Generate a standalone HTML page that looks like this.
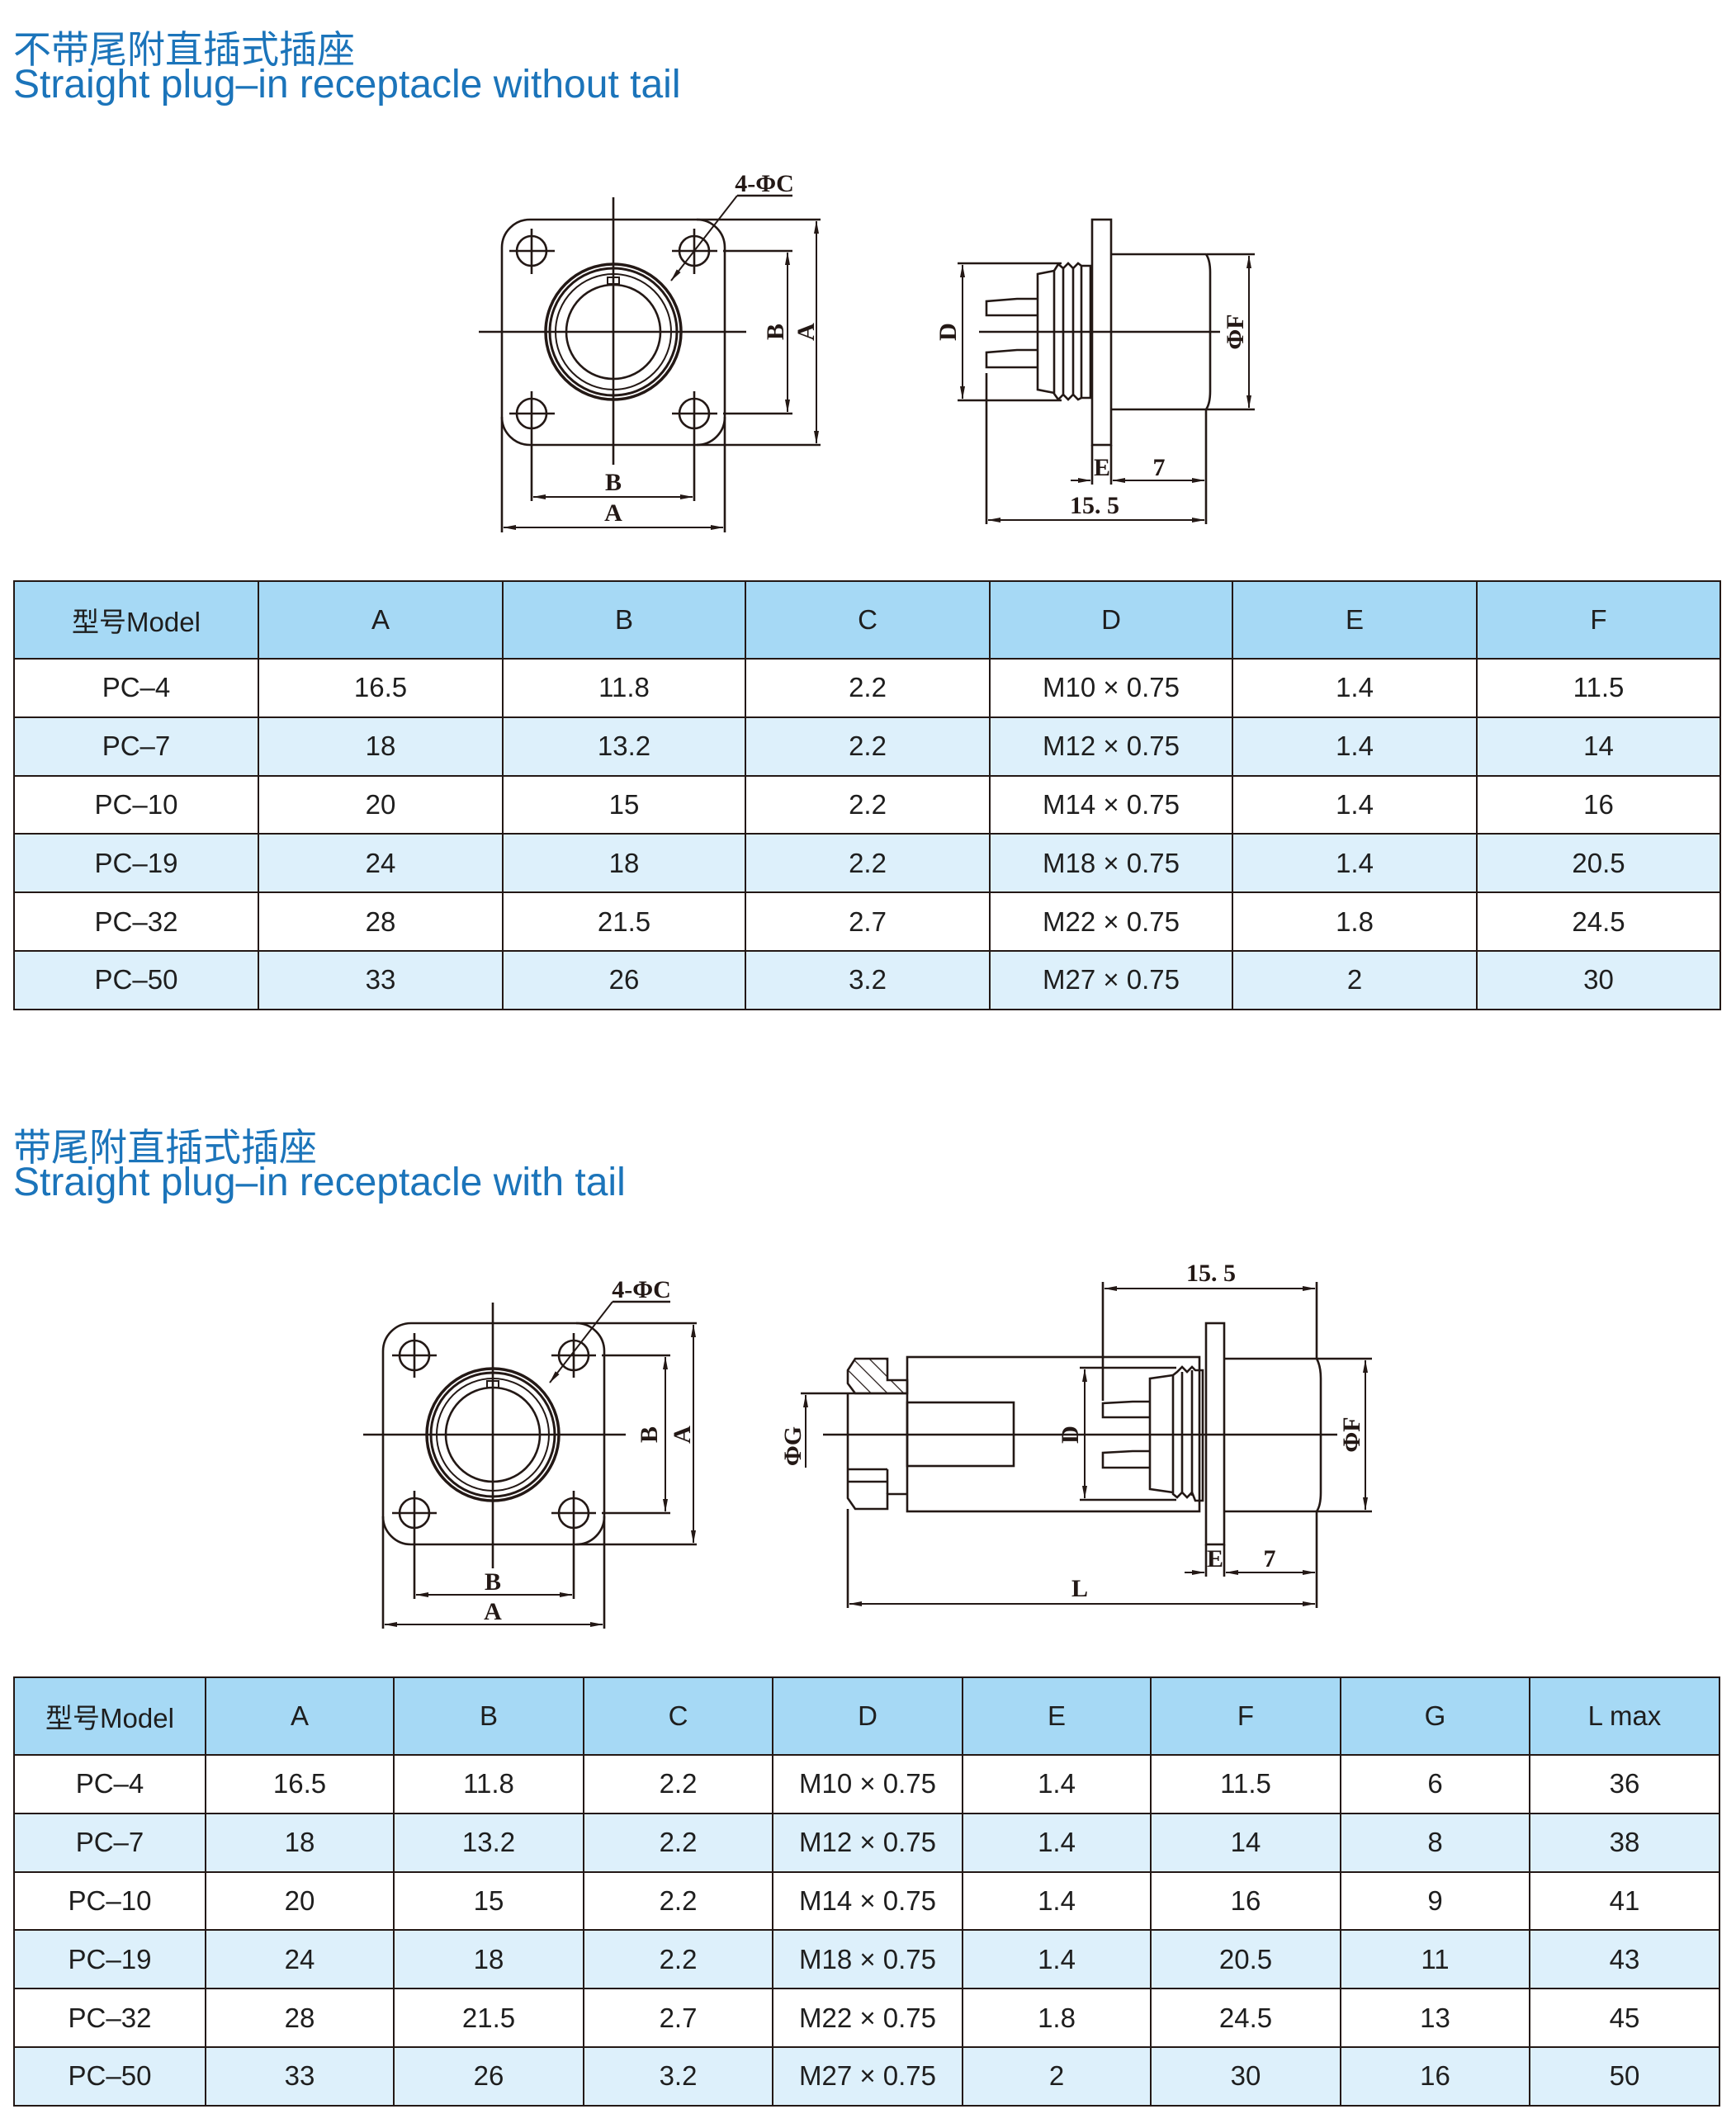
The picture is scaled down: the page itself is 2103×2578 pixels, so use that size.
<!DOCTYPE html>
<html><head><meta charset="utf-8">
<style>
*{margin:0;padding:0;box-sizing:border-box}
body{width:2103px;height:2578px;background:#fff;position:relative;overflow:hidden;font-family:"Liberation Sans","Noto Sans CJK SC",sans-serif}
.t{position:absolute;left:16px;color:#1b74ba;white-space:nowrap}
.cn{font-size:46px;font-family:"Liberation Sans","Noto Sans CJK SC",sans-serif}
.en{font-size:48px}
table{position:absolute;border-collapse:collapse;table-layout:fixed;font-size:33px;color:#1e1e1e}
td{border:2.5px solid #231815;text-align:center;vertical-align:middle;height:70.8px;padding:0}
tr.h td{height:94px;background:#a6d9f5}
tr.a td{background:#ddf0fb}
svg{position:absolute;left:0;top:0}
</style></head><body>
<div class="t cn" style="top:24px">不带尾附直插式插座</div>
<div class="t en" style="top:75px">Straight plug–in receptacle without tail</div>
<div class="t cn" style="top:1354px">带尾附直插式插座</div>
<div class="t en" style="top:1405px">Straight plug–in receptacle with tail</div>

<table style="left:16px;top:703px;width:2067px">
<colgroup><col style="width:296px"><col style="width:296px"><col style="width:294px"><col style="width:296px"><col style="width:294px"><col style="width:296px"><col style="width:295px"></colgroup>
<tr class="h"><td>型号Model</td><td>A</td><td>B</td><td>C</td><td>D</td><td>E</td><td>F</td></tr>
<tr><td>PC–4</td><td>16.5</td><td>11.8</td><td>2.2</td><td>M10 × 0.75</td><td>1.4</td><td>11.5</td></tr>
<tr class="a"><td>PC–7</td><td>18</td><td>13.2</td><td>2.2</td><td>M12 × 0.75</td><td>1.4</td><td>14</td></tr>
<tr><td>PC–10</td><td>20</td><td>15</td><td>2.2</td><td>M14 × 0.75</td><td>1.4</td><td>16</td></tr>
<tr class="a"><td>PC–19</td><td>24</td><td>18</td><td>2.2</td><td>M18 × 0.75</td><td>1.4</td><td>20.5</td></tr>
<tr><td>PC–32</td><td>28</td><td>21.5</td><td>2.7</td><td>M22 × 0.75</td><td>1.8</td><td>24.5</td></tr>
<tr class="a"><td>PC–50</td><td>33</td><td>26</td><td>3.2</td><td>M27 × 0.75</td><td>2</td><td>30</td></tr>
</table>

<table style="left:16px;top:2031px;width:2066px">
<colgroup><col style="width:232px"><col style="width:228px"><col style="width:230px"><col style="width:229px"><col style="width:230px"><col style="width:228px"><col style="width:230px"><col style="width:229px"><col style="width:230px"></colgroup>
<tr class="h"><td>型号Model</td><td>A</td><td>B</td><td>C</td><td>D</td><td>E</td><td>F</td><td>G</td><td>L max</td></tr>
<tr><td>PC–4</td><td>16.5</td><td>11.8</td><td>2.2</td><td>M10 × 0.75</td><td>1.4</td><td>11.5</td><td>6</td><td>36</td></tr>
<tr class="a"><td>PC–7</td><td>18</td><td>13.2</td><td>2.2</td><td>M12 × 0.75</td><td>1.4</td><td>14</td><td>8</td><td>38</td></tr>
<tr><td>PC–10</td><td>20</td><td>15</td><td>2.2</td><td>M14 × 0.75</td><td>1.4</td><td>16</td><td>9</td><td>41</td></tr>
<tr class="a"><td>PC–19</td><td>24</td><td>18</td><td>2.2</td><td>M18 × 0.75</td><td>1.4</td><td>20.5</td><td>11</td><td>43</td></tr>
<tr><td>PC–32</td><td>28</td><td>21.5</td><td>2.7</td><td>M22 × 0.75</td><td>1.8</td><td>24.5</td><td>13</td><td>45</td></tr>
<tr class="a"><td>PC–50</td><td>33</td><td>26</td><td>3.2</td><td>M27 × 0.75</td><td>2</td><td>30</td><td>16</td><td>50</td></tr>
</table>

<svg width="2103" height="2578" viewBox="0 0 2103 2578">
<defs>
<marker id="ar" markerWidth="16" markerHeight="8" refX="15" refY="4" orient="auto-start-reverse" markerUnits="userSpaceOnUse"><path d="M0,1 L16,4 L0,7 Z" fill="#231815"/></marker>
<pattern id="hat" width="14" height="14" patternUnits="userSpaceOnUse" patternTransform="rotate(-45)"><line x1="0" y1="0" x2="0" y2="14" stroke="#231815" stroke-width="2.5"/></pattern>
</defs>
<g fill="none" stroke="#231815" stroke-width="2.6">
<!-- ===== FRONT VIEW 1 ===== -->
<rect x="608" y="266" width="270" height="273" rx="34"/>
<line x1="743" y1="239" x2="743" y2="563"/>
<line x1="580" y1="402" x2="904" y2="402"/>
<g>
<circle cx="644" cy="304" r="18"/><circle cx="841" cy="304" r="18"/><circle cx="644" cy="501" r="18"/><circle cx="841" cy="501" r="18"/>
<path d="M617 304H672M814 304H869M617 501H672M814 501H869M644 277V332M841 277V332M644 474V529M841 474V529"/>
</g>
<circle cx="743" cy="402" r="82" stroke-width="3.5"/>
<circle cx="743" cy="402" r="77" stroke-width="3"/>
<circle cx="743" cy="402" r="70" stroke-width="2"/>
<circle cx="743" cy="402" r="57"/>
<rect x="736" y="336" width="14" height="8" stroke-width="2"/>
<!-- dims -->
<path d="M844 266H994M844 539H994M876 304H960M876 501H960"/>
<line x1="989" y1="268" x2="989" y2="537" marker-start="url(#ar)" marker-end="url(#ar)" stroke-width="2"/>
<line x1="954" y1="306" x2="954" y2="499" marker-start="url(#ar)" marker-end="url(#ar)" stroke-width="2"/>
<path d="M644 529V607M841 529V607M608 505V645M878 505V645"/>
<line x1="646" y1="602" x2="839" y2="602" marker-start="url(#ar)" marker-end="url(#ar)" stroke-width="2"/>
<line x1="610" y1="639" x2="876" y2="639" marker-start="url(#ar)" marker-end="url(#ar)" stroke-width="2"/>
<path d="M893 237H960"/>
<line x1="893" y1="237" x2="813" y2="340" marker-end="url(#ar)" stroke-width="2"/>

<!-- ===== SIDE VIEW 1 ===== -->
<rect x="1323" y="266" width="23" height="273"/>
<path d="M1346 308H1461Q1466 315 1466 330V474Q1466 489 1461 496H1346"/>
<path d="M1462 308H1520M1462 496H1520"/>
<line x1="1513" y1="310" x2="1513" y2="494" marker-start="url(#ar)" marker-end="url(#ar)" stroke-width="2"/>
<path d="M1321 322H1310L1306 319L1300 325L1294 319L1288 325L1282 320L1277 328V477L1282 484L1288 478L1294 484L1300 478L1306 484L1310 482H1321Z"/>
<path d="M1288 325V478M1300 325V478M1310 322V482"/>
<path d="M1277 328L1257 332V472L1277 476"/>
<path d="M1257 362H1232L1195 365V382H1257M1257 424H1232L1195 427V445H1257"/>
<path d="M1160 319H1286M1160 485H1286"/>
<line x1="1166" y1="321" x2="1166" y2="483" marker-start="url(#ar)" marker-end="url(#ar)" stroke-width="2"/>
<line x1="1186" y1="402" x2="1478" y2="402"/>
<path d="M1195 452V635M1323 539V587M1346 539V587M1461 496V635"/>
<line x1="1297" y1="582" x2="1321" y2="582" marker-end="url(#ar)" stroke-width="2"/>
<line x1="1348" y1="582" x2="1459" y2="582" marker-start="url(#ar)" marker-end="url(#ar)" stroke-width="2"/>
<line x1="1197" y1="630" x2="1459" y2="630" marker-start="url(#ar)" marker-end="url(#ar)" stroke-width="2"/>

<!-- ===== FRONT VIEW 2 ===== -->
<rect x="464" y="1603" width="268" height="268" rx="34"/>
<line x1="597" y1="1578" x2="597" y2="1900"/>
<line x1="440" y1="1738" x2="758" y2="1738"/>
<circle cx="502" cy="1642" r="18"/><circle cx="695" cy="1642" r="18"/><circle cx="502" cy="1833" r="18"/><circle cx="695" cy="1833" r="18"/>
<path d="M475 1642H529M668 1642H722M475 1833H529M668 1833H722M502 1615V1669M695 1615V1669M502 1806V1860M695 1806V1860"/>
<circle cx="597" cy="1738" r="80" stroke-width="3.5"/>
<circle cx="597" cy="1738" r="75" stroke-width="3"/>
<circle cx="597" cy="1738" r="68" stroke-width="2"/>
<circle cx="597" cy="1738" r="57"/>
<rect x="590" y="1673" width="14" height="8" stroke-width="2"/>
<path d="M698 1603H844M698 1871H844M729 1642H812M729 1833H812"/>
<line x1="840" y1="1605" x2="840" y2="1869" marker-start="url(#ar)" marker-end="url(#ar)" stroke-width="2"/>
<line x1="806" y1="1644" x2="806" y2="1831" marker-start="url(#ar)" marker-end="url(#ar)" stroke-width="2"/>
<path d="M502 1860V1937M695 1860V1937M464 1837V1973M732 1837V1973"/>
<line x1="504" y1="1932" x2="693" y2="1932" marker-start="url(#ar)" marker-end="url(#ar)" stroke-width="2"/>
<line x1="466" y1="1968" x2="730" y2="1968" marker-start="url(#ar)" marker-end="url(#ar)" stroke-width="2"/>
<path d="M742 1577H812"/>
<line x1="742" y1="1577" x2="666" y2="1675" marker-end="url(#ar)" stroke-width="2"/>

<!-- ===== SIDE VIEW 2 ===== -->
<path d="M1036 1646H1075V1672H1099V1688H1036L1027 1676V1660Z" fill="url(#hat)"/>
<path d="M1027 1688V1815L1036 1828H1075V1810H1099"/>
<path d="M1027 1780H1075M1027 1795H1075M1075 1780V1810"/>
<rect x="1099" y="1644" width="354" height="187"/>
<rect x="1099" y="1699" width="129" height="77"/>
<rect x="1461" y="1603" width="22" height="268"/>
<path d="M1483 1646H1595Q1600 1655 1600 1670V1808Q1600 1824 1595 1831H1483"/>
<path d="M1457 1660H1448L1444 1656L1438 1662L1432 1656L1426 1662L1421 1666V1810L1426 1814L1432 1808L1438 1814L1444 1808L1448 1818H1457Z"/>
<path d="M1432 1662V1808M1444 1660V1812"/>
<path d="M1421 1666L1393 1670V1804L1421 1808"/>
<path d="M1393 1698H1372L1336 1700V1717H1393M1393 1758H1372L1336 1760V1778H1393"/>
<path d="M1308 1657H1425M1308 1817H1425"/>
<line x1="1314" y1="1659" x2="1314" y2="1815" marker-start="url(#ar)" marker-end="url(#ar)" stroke-width="2"/>
<path d="M1595 1646H1662M1595 1831H1662"/>
<line x1="1654" y1="1648" x2="1654" y2="1829" marker-start="url(#ar)" marker-end="url(#ar)" stroke-width="2"/>
<path d="M970 1688H1099"/>
<line x1="976" y1="1690" x2="976" y2="1778" marker-start="url(#ar)" stroke-width="2"/>
<line x1="997" y1="1738" x2="1620" y2="1738"/>
<path d="M1336 1553V1697M1595 1553V1646M1595 1831V1948M1027 1828V1948M1461 1871V1910M1483 1871V1910"/>
<line x1="1338" y1="1561" x2="1593" y2="1561" marker-start="url(#ar)" marker-end="url(#ar)" stroke-width="2"/>
<line x1="1435" y1="1905" x2="1459" y2="1905" marker-end="url(#ar)" stroke-width="2"/>
<line x1="1485" y1="1905" x2="1593" y2="1905" marker-start="url(#ar)" marker-end="url(#ar)" stroke-width="2"/>
<line x1="1029" y1="1943" x2="1593" y2="1943" marker-start="url(#ar)" marker-end="url(#ar)" stroke-width="2"/>
</g>
<g fill="#231815" font-family="'Liberation Serif',serif" font-weight="bold" font-size="30" text-anchor="middle">
<text x="743" y="594">B</text><text x="743" y="631">A</text>
<text transform="translate(949,402) rotate(-90)">B</text>
<text transform="translate(986,402) rotate(-90)">A</text>
<text x="926" y="232">4-ΦC</text>
<text transform="translate(1158,402) rotate(-90)">D</text>
<text transform="translate(1506,402) rotate(-90)">ΦF</text>
<text x="1335" y="576">E</text><text x="1404" y="576">7</text>
<text x="1326" y="622">15. 5</text>
<text x="597" y="1926">B</text><text x="597" y="1962">A</text>
<text transform="translate(796,1738) rotate(-90)">B</text>
<text transform="translate(836,1738) rotate(-90)">A</text>
<text x="777" y="1572">4-ΦC</text>
<text transform="translate(1306,1738) rotate(-90)">D</text>
<text transform="translate(1647,1738) rotate(-90)">ΦF</text>
<text transform="translate(970,1752) rotate(-90)">ΦG</text>
<text x="1472" y="1898">E</text><text x="1538" y="1898">7</text>
<text x="1467" y="1552">15. 5</text>
<text x="1308" y="1934">L</text>
</g>
</svg>
</body></html>
